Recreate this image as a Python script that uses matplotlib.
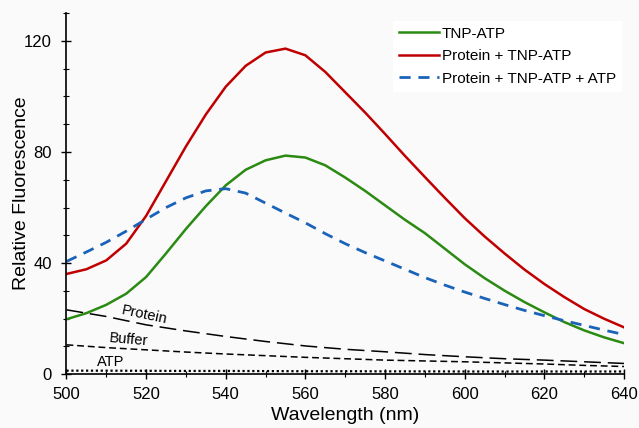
import matplotlib
matplotlib.use("Agg")
import matplotlib.pyplot as plt
from matplotlib.ticker import MultipleLocator

# Wavelength grid (nm) for the main spectra
wavelength = [500, 505, 510, 515, 520, 525, 530, 535, 540, 545, 550, 555, 560, 565,
              570, 575, 580, 585, 590, 595, 600, 605, 610, 615, 620, 625, 630, 635, 640]

tnp_atp = [19.8, 22.0, 25.0, 29.0, 35.0, 43.5, 52.3, 60.5, 68.0, 73.6, 77.0, 78.7, 78.0, 75.2,
           70.8, 66.0, 60.8, 55.6, 50.8, 45.2, 39.6, 34.6, 30.1, 26.0, 22.3, 18.8, 15.8, 13.3, 11.2]

protein_tnp_atp = [36.1, 37.8, 41.0, 47.0, 57.0, 69.5, 82.0, 93.5, 103.5, 111.0, 115.8, 117.2, 114.8, 108.8,
                   101.5, 94.2, 86.5, 78.6, 71.0, 63.5, 56.2, 49.6, 43.5, 37.7, 32.5, 27.8, 23.5, 20.0, 16.9]

protein_tnp_atp_atp = [40.6, 44.0, 47.5, 51.5, 55.8, 60.0, 63.5, 66.0, 66.8, 65.2, 61.6, 58.0, 54.5, 50.6,
                       47.0, 43.8, 40.8, 37.8, 34.8, 32.1, 29.6, 27.3, 25.1, 23.0, 21.1, 19.3, 17.6, 15.9, 14.3]

# Background controls (coarser grid)
wavelength_bg = [500, 510, 520, 530, 540, 550, 560, 570, 580, 590, 600, 610, 620, 630, 640]
protein = [23.2, 20.8, 17.8, 15.6, 13.6, 11.8, 10.2, 9.0, 8.1, 7.1, 6.3, 5.6, 5.1, 4.5, 3.9]
buffer = [10.6, 9.6, 8.8, 8.0, 7.3, 6.7, 6.1, 5.6, 5.1, 4.8, 4.5, 4.1, 3.7, 3.2, 2.8]
atp = [1.3, 1.3, 1.25, 1.2, 1.2, 1.15, 1.1, 1.1, 1.05, 1.05, 1.0, 1.0, 1.0, 1.0, 1.0]

plt.rcParams["font.family"] = ["Liberation Sans", "DejaVu Sans"]

fig = plt.figure(figsize=(6.39, 4.28), dpi=100, facecolor="#fafafa")
ax = fig.add_axes([0.104, 0.1255, 0.8725, 0.844])
ax.set_facecolor("#fafafa")

# baselines
ax.plot(wavelength_bg, protein, color="black", lw=1.1, linestyle=(0, (11, 4.5)))
ax.plot(wavelength_bg, buffer, color="black", lw=1.1, linestyle=(0, (4.5, 2.5)))
ax.plot(wavelength_bg, atp, color="black", lw=1.6, linestyle=(0, (1, 1.2)))

# spectra
ax.plot(wavelength, tnp_atp, color="#2a8a12", lw=1.8, label="TNP-ATP")
ax.plot(wavelength, protein_tnp_atp, color="#c00000", lw=1.8, label="Protein + TNP-ATP")
ax.plot(wavelength, protein_tnp_atp_atp, color="#1a63b8", lw=2.0,
        linestyle=(0, (4, 2.8)), label="Protein + TNP-ATP + ATP")

# curve labels
ax.text(519.5, 21.4, "Protein", fontsize=10.5, rotation=-12, ha="center", va="center")
ax.text(515.7, 12.4, "Buffer", fontsize=10.5, rotation=-5, ha="center", va="center")
ax.text(511, 4.5, "ATP", fontsize=10.5, ha="center", va="center")

ax.set_xlim(500, 640)
ax.set_ylim(0, 130)
ax.xaxis.set_major_locator(MultipleLocator(20))
ax.xaxis.set_minor_locator(MultipleLocator(10))
ax.yaxis.set_major_locator(MultipleLocator(40))
ax.yaxis.set_minor_locator(MultipleLocator(10))
ax.tick_params(which="major", direction="inout", length=7, width=1, labelsize=12)
ax.tick_params(axis="x", which="major", pad=6)
ax.tick_params(axis="y", which="major", pad=7)
ax.tick_params(which="minor", direction="inout", length=4, width=0.8)

for side in ["top", "right"]:
    ax.spines[side].set_visible(False)
for side in ["left", "bottom"]:
    ax.spines[side].set_linewidth(1.2)

ax.set_xlabel("Wavelength (nm)", fontsize=14, labelpad=3)
ax.set_ylabel("Relative Fluorescence", fontsize=14, labelpad=-4)

leg = ax.legend(loc="upper left", bbox_to_anchor=(0.572, 1.0), fontsize=11,
                handlelength=2.6, handletextpad=0.2, labelspacing=0.55,
                facecolor="white", edgecolor="none", framealpha=1, fancybox=False)

fig.savefig("out.png", dpi=100, facecolor=fig.get_facecolor())
